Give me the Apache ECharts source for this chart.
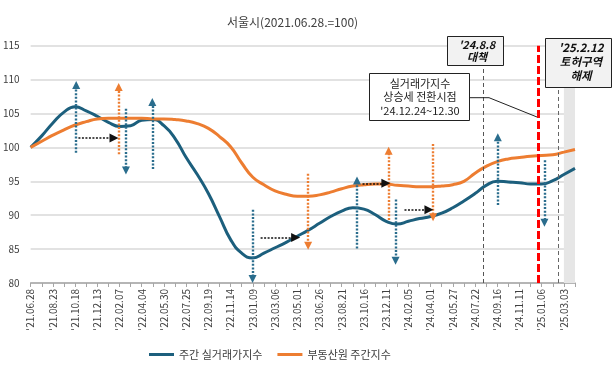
<!DOCTYPE html>
<html><head><meta charset="utf-8">
<script src="https://cdn.jsdelivr.net/npm/echarts@6/dist/echarts.min.js"></script>
<style>html,body{margin:0;padding:0;background:#fff}#c{width:613px;height:367px}</style>
</head><body><div id="c"></div>
<script>
// ---- data ----
const titleText = '서울시(2021.06.28.=100)';
const seriesNames = ['주간 실거래가지수', '부동산원 주간지수'];
// week index (from 2021-06-28), every 4 weeks
const weeks = [0,4,8,12,16,20,24,28,32,36,40,44,48,52,56,60,64,68,72,76,80,84,88,92,96,100,104,108,112,116,120,124,128,132,136,140,144,148,152,156,160,164,168,172,176,180,184,188,192,196];
const realPriceIdx = [100,101.7,103.6,105.2,106.0,105.4,104.6,103.7,103.1,103.2,
  104.0,104.1,103.2,101.3,98.5,96.0,93.2,89.8,86.4,84.4,
  83.7,84.4,85.2,86.0,86.9,87.8,88.8,89.8,90.6,91.1,
  90.9,90.1,89.1,88.7,89.1,89.5,89.8,90.3,91.1,92.1,
  93.2,94.4,95.0,94.9,94.8,94.6,94.6,95.1,96.0,96.9];
const rebIdx = [100,100.9,101.8,102.6,103.3,103.8,104.2,104.3,104.3,104.3,
  104.3,104.2,104.2,104.1,103.9,103.5,102.8,101.6,100.1,97.7,
  95.6,94.5,93.6,93.1,92.8,92.8,93.0,93.4,93.9,94.3,
  94.5,94.6,94.6,94.4,94.3,94.2,94.2,94.3,94.5,95.0,
  96.2,97.2,97.9,98.3,98.5,98.7,98.8,98.9,99.3,99.7];
// x tick labels, every 8 weeks
const tickLabels = ["'21.06.28","'21.08.23","'21.10.18","'21.12.13","'22.02.07","'22.04.04","'22.05.30","'22.07.25","'22.09.19","'22.11.14","'23.01.09","'23.03.06","'23.05.01","'23.06.26","'23.08.21","'23.10.16","'23.12.11","'24.02.05","'24.04.01","'24.05.27","'24.07.22","'24.09.16","'24.11.11","'25.01.06","'25.03.03"];
// annotation arrows: [week, fromValue, toValue]
const blueArrows = [[16.4,99.2,109.2],[34.3,105.7,96.6],[43.8,96.8,106.7],[79.9,90.8,80.6],[117.5,85.1,95.1],[131.4,92.3,83.3],[168.2,91.5,101.5],[185,98.1,88.9]];
const orangeArrows = [[31.7,99.0,108.9],[99.9,96.1,85.5],[128.9,89.3,99.5],[144.9,100.5,89.7]];
// horizontal arrows: [value, fromWeek, toWeek]
const blackArrows = [[101.4,17.2,30.0],[86.7,82.8,95.4],[94.7,119.5,127.9],[90.8,134.6,143.4]];
// event lines: [week, topValue]
const policyWeek = 163, policyTop = 112;      // '24.8.8 대책
const turnWeek = 182.6, turnTop = 115;        // 상승 전환
const releaseWeek = 190, releaseTop = 108.7;  // '25.2.12 토허구역 해제
const bandFrom = 192, bandTo = 196;

const FONT = "'Noto Sans CJK KR','Noto Sans',sans-serif";
const BLUE = '#1c5f7d', ORANGE = '#ed7d31', BLUE_DOT = '#2a6d8d';

function vArrow(a, color) {
  return [{coord:[a[0],a[1]], symbol:'none', lineStyle:{color:color, width:2.4, type:[2,1.6]}},
          {coord:[a[0],a[2]], symbol:'triangle', symbolSize:[8,8], itemStyle:{color:color}}];
}
function hArrow(a) {
  return [{coord:[a[1],a[0]], symbol:'none', lineStyle:{color:'#111', width:1.5, type:[2,1.5]}},
          {coord:[a[2],a[0]], symbol:'triangle', symbolSize:[9,9], itemStyle:{color:'#000'}}];
}
const arrowData = [].concat(
  blueArrows.map(a => vArrow(a, BLUE_DOT)),
  orangeArrows.map(a => vArrow(a, ORANGE)),
  blackArrows.map(hArrow)
);
const eventLines = [
  [{coord:[policyWeek,80], symbol:'none', lineStyle:{color:'#555', width:1, type:[4,3]}},{coord:[policyWeek,policyTop], symbol:'none'}],
  [{coord:[releaseWeek,80], symbol:'none', lineStyle:{color:'#666', width:1, type:[4,3]}},{coord:[releaseWeek,releaseTop], symbol:'none'}],
  [{coord:[turnWeek,80], symbol:'none', lineStyle:{color:'#ff0000', width:3, type:[8,3]}},{coord:[turnWeek,turnTop], symbol:'none'}]
];

const chart = echarts.init(document.getElementById('c'), null, {renderer:'canvas'});
chart.setOption({
  animation:false,
  textStyle:{fontFamily:FONT},
  title:{text:titleText, left:222, top:11, textStyle:{fontSize:12, fontWeight:'normal', color:'#404040', fontFamily:FONT}},
  grid:{left:29, right:38, top:45.7, bottom:84},
  legend:{data:seriesNames, left:144, top:344, icon:'rect', itemWidth:25, itemHeight:3, itemGap:15,
    textStyle:{fontSize:11, color:'#404040', fontFamily:FONT}},
  xAxis:{type:'value', min:0, max:196, interval:4,
    axisLine:{lineStyle:{color:'#a6a6a6', width:1.5}},
    axisTick:{show:true, length:4, lineStyle:{color:'#a6a6a6'}},
    splitLine:{show:false},
    axisLabel:{rotate:90, margin:6, fontSize:10, color:'#404040', fontFamily:FONT,
      formatter: v => (v % 8 === 0 ? (tickLabels[v/8] || '') : '')}},
  yAxis:{type:'value', min:80, max:115, interval:5,
    axisLine:{show:false}, axisTick:{show:false},
    splitLine:{lineStyle:{color:'#d9d9d9', width:1.5}},
    axisLabel:{fontSize:10, color:'#404040', margin:11, fontFamily:FONT}},
  series:[
    {type:'line', name:'band', data:[], z:1, silent:true,
      markArea:{silent:true, itemStyle:{color:'#e6e6e6'}, data:[[{xAxis:bandFrom},{xAxis:bandTo}]]}},
    {type:'line', name:seriesNames[1], data:weeks.map((w,i)=>[w, rebIdx[i]]), smooth:0.5, showSymbol:false, z:3,
      itemStyle:{color:ORANGE}, lineStyle:{color:ORANGE, width:3}},
    {type:'line', name:seriesNames[0], data:weeks.map((w,i)=>[w, realPriceIdx[i]]), smooth:0.5, showSymbol:false, z:2,
      itemStyle:{color:BLUE}, lineStyle:{color:BLUE, width:3}},
    {type:'line', name:'annot', data:[], z:5, silent:true,
      markLine:{silent:true, animation:false, label:{show:false}, symbol:['none','none'], data: eventLines.concat(arrowData)}}
  ],
  graphic:[
    {type:'polyline', z:100, shape:{points:[[470,97.7],[489,97.7],[537,117]]}, style:{stroke:'#222', lineWidth:1, fill:null}},
    {type:'rect', z:100, shape:{x:369.5,y:73.5,width:100,height:47}, style:{fill:'#fff', stroke:'#222', lineWidth:1}},
    {type:'text', z:101, x:420, y:97, style:{text:"실거래가지수\n상승세 전환시점\n'24.12.24~12.30", align:'center', verticalAlign:'middle', fontSize:11, lineHeight:13.5, fill:'#222', fontFamily:FONT}},
    {type:'rect', z:100, shape:{x:447.5,y:36.5,width:56,height:29}, style:{fill:'#f2f2f2', stroke:'#222', lineWidth:1}},
    {type:'text', z:101, x:477, y:51, style:{text:"'24.8.8\n대책", align:'center', verticalAlign:'middle', fontSize:11, fontWeight:'bold', fontStyle:'italic', lineHeight:12, fill:'#111', fontFamily:FONT}},
    {type:'rect', z:100, shape:{x:545.5,y:38.5,width:66,height:49}, style:{fill:'#f2f2f2', stroke:'#222', lineWidth:1}},
    {type:'text', z:101, x:581, y:62, style:{text:"'25.2.12\n토허구역\n해제", align:'center', verticalAlign:'middle', fontSize:11.5, fontWeight:'bold', fontStyle:'italic', lineHeight:14, fill:'#111', fontFamily:FONT}}
  ]
});
</script></body></html>
